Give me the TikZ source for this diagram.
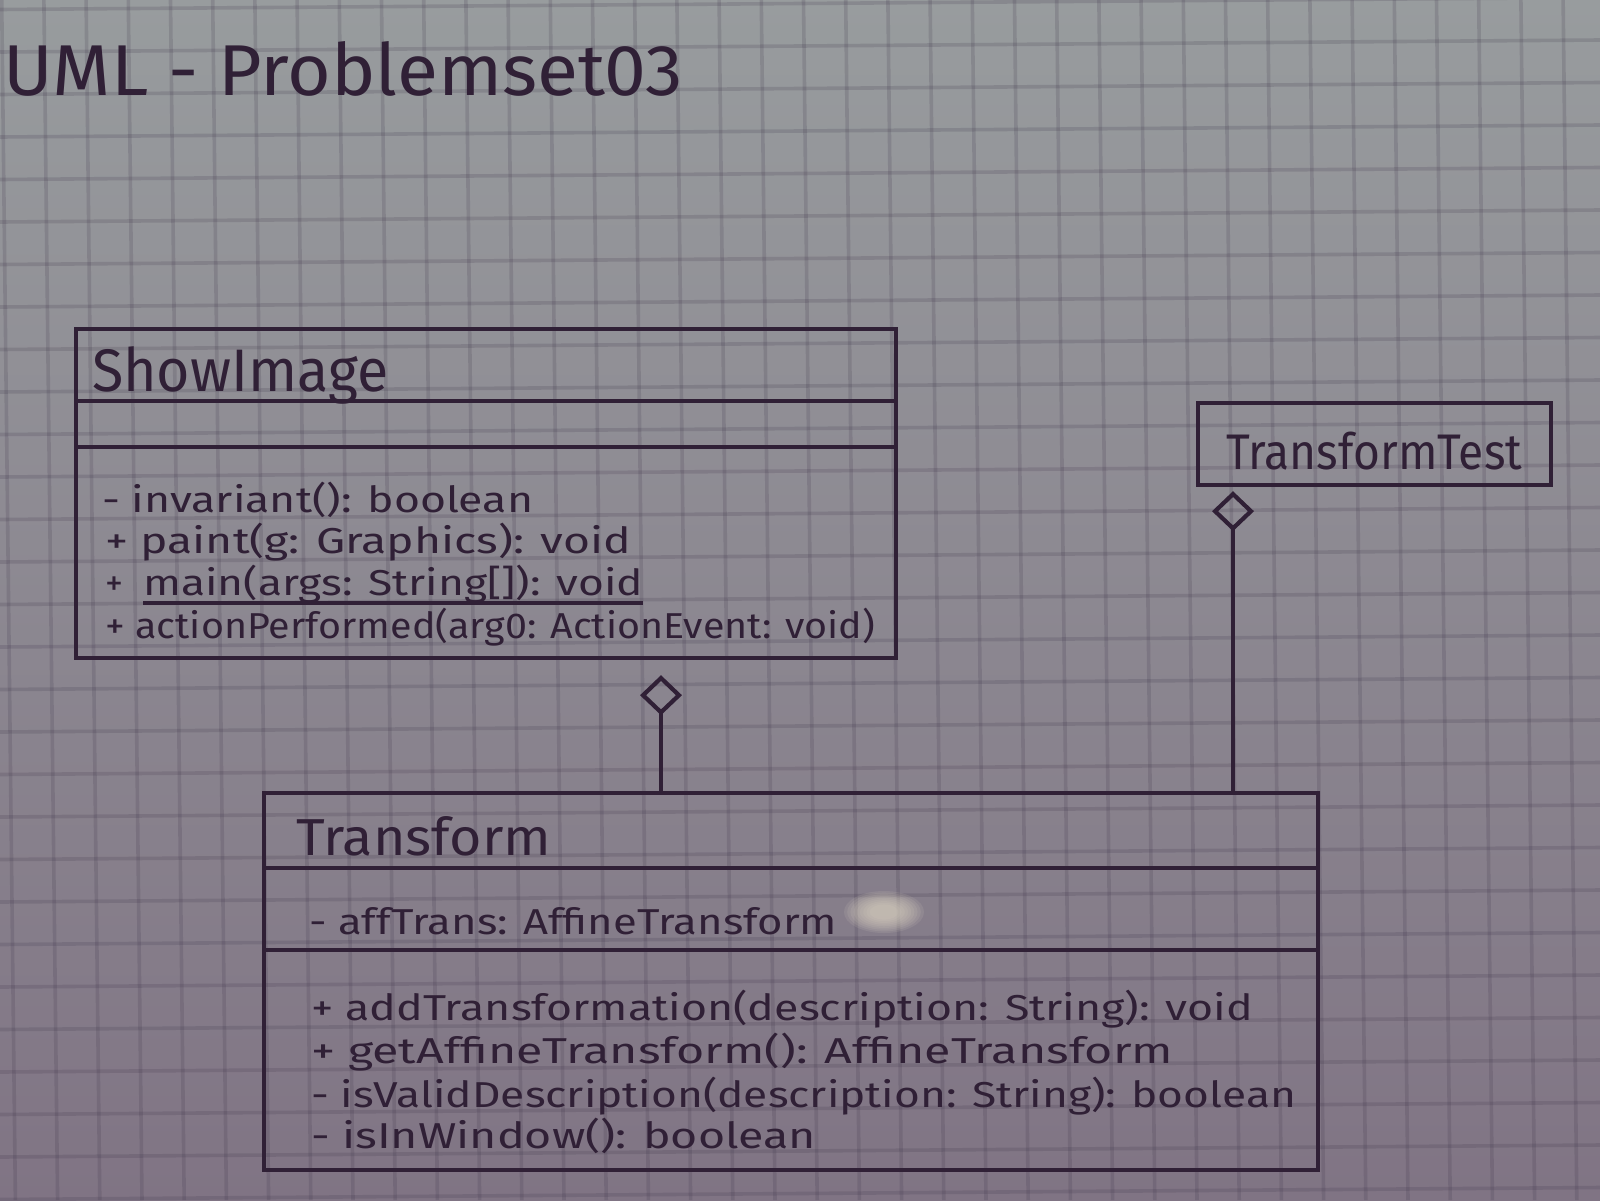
\documentclass[tikz,border=0pt]{standalone}
\usepackage{fontspec}
\setmainfont{Fira Sans}
\usetikzlibrary{arrows.meta}

\definecolor{paperTop}{RGB}{152,156,158}
\definecolor{paperBot}{RGB}{128,116,132}
\definecolor{gridc}{RGB}{60,50,72}
\definecolor{ink}{RGB}{48,32,54}
\definecolor{glare}{RGB}{222,214,196}

% stretch a text horizontally to a given width, keeping its height
\newcommand{\fitto}[2]{\resizebox{#1}{\height}{#2}}

\begin{document}
\begin{tikzpicture}[x=1pt,y=-1pt,
  gridline/.style={draw=gridc, line width=3.6pt, opacity=0.18},
  inkline/.style={draw=ink, line width=4.2pt},
  classbox/.style={inkline, rectangle, inner sep=0pt, anchor=north west},
  txt/.style={anchor=base west, inner sep=0pt, text=ink},
  titlefont/.style={font=\fontsize{72}{80}\selectfont},
  namefont/.style={font=\fontsize{60}{66}\selectfont},
  opfont/.style={font=\fontsize{36}{40}\selectfont},
  agg/.style={inkline, -{Diamond[open, length=40pt, width=42pt]}}
]
\useasboundingbox (0,0) rectangle (1600,1200);

% squared paper
\shade[top color=paperTop, bottom color=paperBot] (0,0) rectangle (1600,1200);
\foreach \k in {-1,...,38}
  \draw[gridline] ({12+42.2*\k-10.3},0) -- ({12+42.2*\k+3.4},1200);
\foreach \k in {0,...,29}
  \draw[gridline] (0,{9.5+42.5*\k}) -- (1600,{9.5+42.5*\k-12});

% light spot on the paper
\foreach \r in {1.0,0.92,...,0.3}
  \fill[glare, opacity=0.12] (884,912) ellipse ({40*\r} and {21*\r});

% heading
\node[txt, titlefont] (title) at (3,95) {\fitto{680pt}{UML - Problemset03}};

% class ShowImage
\node[classbox, minimum width=820pt, minimum height=329pt] (showimage) at (74,327) {};
\coordinate (si1) at (0,401);
\coordinate (si2) at (0,447);
\draw[inkline] (showimage.west |- si1) -- (showimage.east |- si1);
\draw[inkline] (showimage.west |- si2) -- (showimage.east |- si2);
\node[txt, namefont] (siname) at (92,391) {\fitto{296pt}{ShowImage}};
\node[txt, opfont] (siop1) at (102,512) {\fitto{431pt}{- invariant(): boolean}};
\node[txt, opfont] (siop2) at (105,553) {\fitto{526pt}{+ paint(g: Graphics): void}};
\node[txt, opfont] (siop3s) at (105,595) {+};
\node[txt, opfont] (siop3) at (143,595) {\fitto{500pt}{main(args: String[]): void}};
\draw[inkline, line width=3.2pt] ([yshift=-8pt]siop3.base west) -- ([yshift=-8pt]siop3.base east);
\node[txt, opfont] (siop4) at (105,638) {\fitto{770pt}{+ actionPerformed(arg0: ActionEvent: void)}};

% class TransformTest
\node[classbox, minimum width=353pt, minimum height=82pt] (ttest) at (1196,401) {};
\node[txt, namefont, font=\fontsize{50}{56}\selectfont] (ttname) at (1226,469) {\fitto{296pt}{TransformTest}};

% class Transform
\node[classbox, minimum width=1054pt, minimum height=377pt] (transform) at (262,791) {};
\coordinate (tr1) at (0,868);
\coordinate (tr2) at (0,950);
\draw[inkline] (transform.west |- tr1) -- (transform.east |- tr1);
\draw[inkline] (transform.west |- tr2) -- (transform.east |- tr2);
\node[txt, namefont, font=\fontsize{52}{58}\selectfont] (trname) at (296,855) {\fitto{255pt}{Transform}};
\node[txt, opfont] (tratt) at (309,934) {\fitto{528pt}{- affTrans: AffineTransform}};
\node[txt, opfont] (trop1) at (311,1020) {\fitto{942pt}{+ addTransformation(description: String): void}};
\node[txt, opfont] (trop2) at (311,1063) {\fitto{862pt}{+ getAffineTransform(): AffineTransform}};
\node[txt, opfont] (trop3) at (311,1107) {\fitto{985pt}{- isValidDescription(description: String): boolean}};
\node[txt, opfont] (trop4) at (311,1148) {\fitto{505pt}{- isInWindow(): boolean}};

% aggregations
\coordinate (aggA) at (661,0);
\coordinate (aggB) at (1233,0);
\draw[agg, shorten >=15pt] (transform.north -| aggA) -- (showimage.south -| aggA);
\draw[agg, shorten >=4pt] (transform.north -| aggB) -- (ttest.south -| aggB);
\end{tikzpicture}
\end{document}
